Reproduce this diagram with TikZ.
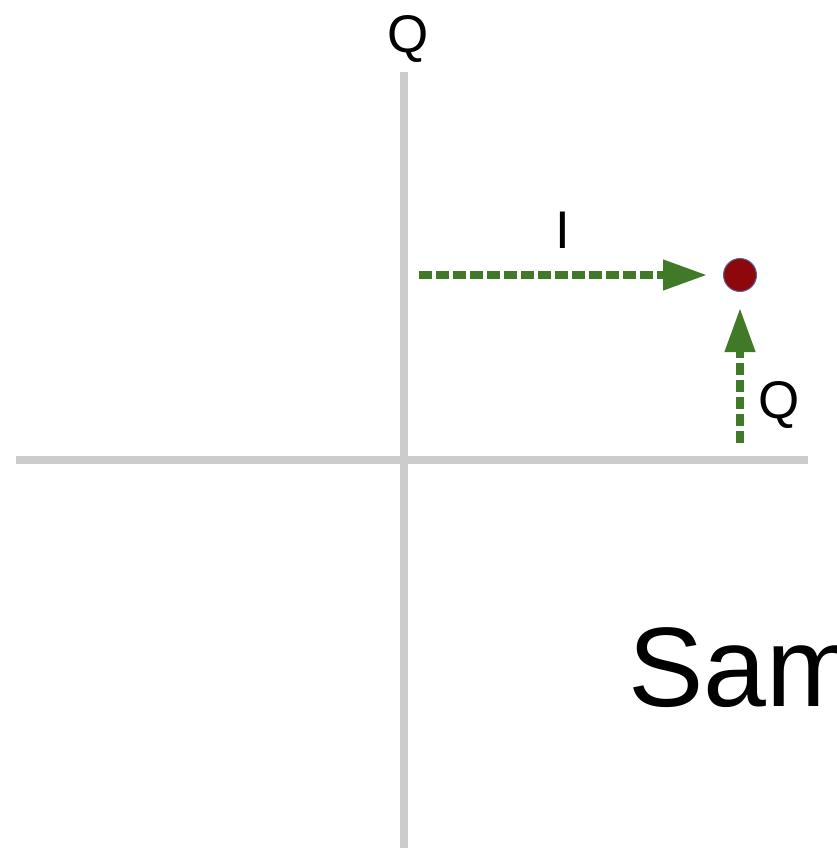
\documentclass[tikz,border=0pt]{standalone}
\usepackage{fontspec}
\setmainfont{Liberation Sans}
\usetikzlibrary{arrows.meta}
\definecolor{axisgray}{RGB}{204,204,204}
\definecolor{arrowgreen}{RGB}{64,122,40}
\definecolor{dotred}{RGB}{140,8,10}
\definecolor{dotedge}{RGB}{90,100,160}
\tikzset{
  axis/.style={draw=axisgray, line width=8pt},
  iqarrow/.style={draw=arrowgreen, line width=7.5pt, dash pattern=on 12.5pt off 4.5pt,
    -{Triangle[length=44pt,width=29pt]}, shorten >=16pt},
  lbl/.style={font=\fontsize{53}{60}\selectfont, inner sep=0pt, anchor=base},
  big/.style={font=\fontsize{113}{120}\selectfont, inner sep=0pt, anchor=base west},
}
\begin{document}
\begin{tikzpicture}[x=1pt,y=-1pt]
\useasboundingbox (0,0) rectangle (836,848);
\clip (0,0) rectangle (836,848);
\coordinate (vt) at (404,72);
\coordinate (vb) at (404,848);
\coordinate (hl) at (16,459.5);
\coordinate (hr) at (808,459.5);
\draw[axis] (vt) -- (vb);
\draw[axis] (hl) -- (hr);
\node[lbl] (qtop) at (408,53) {Q};
\node[circle, fill=dotred, draw=dotedge, line width=1pt, minimum size=33pt, inner sep=0pt] (dot) at (740,275) {};
\coordinate (istart) at (419,275);
\coordinate (qstart) at (740,443);
\draw[iqarrow] (istart) -- (dot);
\draw[iqarrow] (qstart) -- (dot);
\node[lbl] (ilbl) at (563,248) {I};
\node[lbl] (qlbl) at (779,418) {Q};
\node[big] (sam) at (628,706) {Sam};
\end{tikzpicture}
\end{document}
